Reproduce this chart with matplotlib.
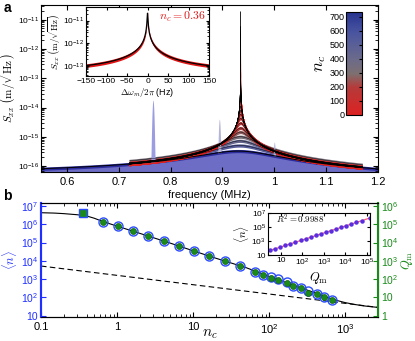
import numpy as np
import matplotlib
matplotlib.use('Agg')
import matplotlib.pyplot as plt
from matplotlib.colors import LinearSegmentedColormap, Normalize
from matplotlib.cm import ScalarMappable
from matplotlib.ticker import LogLocator, FixedLocator, FixedFormatter, NullFormatter

plt.rcParams['font.family'] = ['Liberation Sans', 'DejaVu Sans']
plt.rcParams['mathtext.fontset'] = 'cm'

# ---- panel b data: cooling strength, occupancy, quality factor ----
nc = [0.36, 0.65, 1.03, 1.62, 2.56, 4.15, 6.5, 10.3, 16.2, 26.4, 41.5,
      65, 83, 107, 131, 173, 207, 264, 326, 426, 525, 676]
n_mean = [4.2e6, 1.32e6, 7.9e5, 4.3e5, 2.3e5, 1.23e5, 6.5e4, 3.5e4, 1.86e4,
          9.8e3, 5.2e3, 2.45e3, 1.78e3, 1.32e3, 955, 660, 447, 324, 224,
          162, 112, 72]
q_m = [4.2e5, 1.32e5, 7.9e4, 4.3e4, 2.3e4, 1.23e4, 6.5e3, 3.5e3, 1.86e3,
       980, 520, 235, 165, 122, 86, 60, 42, 31, 17, 14.5, 10.3, 6.9]
# theory curves
model_nc = [0.1, 0.15, 0.2, 0.3, 0.4, 0.5, 0.65, 1, 2, 5, 10, 20, 50, 100,
            200, 400, 600, 800, 1000, 1300, 1700, 2200, 2800]
model_n = [4.27e6, 4.07e6, 3.8e6, 3.31e6, 2.82e6, 2.14e6, 1.41e6, 7.9e5,
           3.16e5, 9.3e4, 3.55e4, 1.38e4, 4.2e3, 1.41e3, 500, 178, 95, 66,
           52, 42, 35, 31, 28]
limit_nc = [0.1, 2800]
limit_n = [5.2e3, 28]

# ---- panel b inset ----
ins_q = [3.2, 5.5, 9.5, 16, 28, 48, 85, 145, 250, 430, 750, 1300, 2200,
         3800, 6500, 1.1e4, 1.9e4, 3.3e4, 5.7e4, 1.35e5]
ins_n = [48, 80, 140, 230, 400, 690, 1200, 2100, 3600, 6200, 1.05e4,
         1.8e4, 3.1e4, 5.4e4, 9.2e4, 1.55e5, 2.7e5, 4.6e5, 8e5, 1.9e6]
fit_q = [2.6, 1.4e5]
fit_n = [36, 1.96e6]

# ---- panel a: spectra (MHz, m/sqrt(Hz)) ----
f0 = 0.935
floor = 4e-17
scale = 4.5e-18
spike_f = [0.766, 0.894, 1.0]
spike_s = [1.8e-14, 4.0e-15, 6.3e-16]
spike_w = 0.0018
# inset a: n_c = 0.36 trace (Hz)
ins_peak = 2.1e-11
ins_gamma = 1.24
ins_floor = 5e-14

cmap = LinearSegmentedColormap.from_list(
    'nc', [(0, '#dd2222'), (0.27, '#b53a3a'), (0.4, '#7d7070'),
           (0.55, '#6a6a8c'), (0.8, '#4a55a0'), (1, '#26338f')])
norm = Normalize(0, 735)

W, H = 415, 341
def box(x0, y0, x1, y1):
    return [x0 / W, 1 - y1 / H, (x1 - x0) / W, (y1 - y0) / H]

def sup(v):
    return r'$\mathregular{10^{%d}}$' % v

fig = plt.figure(figsize=(4.15, 3.41), dpi=100)

# ================= panel a =================
ax = fig.add_axes(box(41, 5, 378, 172))
f = np.linspace(0.55, 1.2, 4001)
f = np.union1d(f, f0 + np.concatenate([-np.logspace(-8, -1.3, 300), [0],
                                       np.logspace(-8, -1.3, 300)]))

def spectrum(n, q, x):
    g = f0 / q
    s = scale * n * f0 * g / np.sqrt((f0**2 - x**2)**2 + (x * g)**2)
    return np.sqrt(s**2 + floor**2)

nf = 10**0.055
s_last = spectrum(n_mean[-1], q_m[-1], f)
ax.fill_between(f, 1e-18, s_last, color='#6d6dc6', lw=0)
ax.fill_between(f, s_last / nf, s_last * nf, color='#2b2b9c', lw=0)

part = (f > 0.72) & (f < 1.17)
for n, q, c in list(zip(n_mean, q_m, nc))[-2::-1]:
    s = spectrum(n, q, f[part])
    ax.fill_between(f[part], s / nf, s * nf, color=cmap(norm(c)), lw=0)
for n, q in zip(n_mean[:-1], q_m[:-1]):
    ax.plot(f[part], spectrum(n, q, f[part]), color='k', lw=0.3)
ax.plot(f, s_last, color='k', lw=0.7)

for fs, hs, col in zip(spike_f, spike_s, ['#9c9ce0', '#b4b4d8', '#aeb0d8']):
    top = np.sqrt(s_last**2 + (hs * np.exp(-((f - fs) / spike_w)**2))**2)
    ax.fill_between(f, s_last, top, where=np.abs(f - fs) < 4 * spike_w,
                    color=col, lw=0)

ax.set_xlim(0.55, 1.2)
ax.set_ylim(10**-16.2, 10**-10.5)
ax.set_yscale('log')
ax.set_xticks([0.6, 0.7, 0.8, 0.9, 1.0, 1.1, 1.2])
ax.set_xticklabels(['0.6', '0.7', '0.8', '0.9', '1', '1.1', '1.2'])
ax.yaxis.set_major_locator(FixedLocator([10.0**k for k in range(-16, -10)]))
ax.yaxis.set_major_formatter(FixedFormatter([sup(k) for k in range(-16, -10)]))
ax.yaxis.set_minor_locator(LogLocator(base=10, subs=np.arange(2, 10)))
ax.yaxis.set_minor_formatter(NullFormatter())
ax.tick_params(which='both', direction='in', top=True, right=True, labelsize=6)
ax.tick_params(axis='y', pad=1.5)
ax.tick_params(axis='x', labelsize=8)
ax.tick_params(which='major', length=3.5)
ax.tick_params(which='minor', length=2)
ax.set_xlabel('frequency (MHz)', fontsize=8, labelpad=2)
ax.set_ylabel(r'$S_{xx}\ \left(\mathrm{m}/\sqrt{\mathrm{Hz}}\right)$', fontsize=8)
ax.yaxis.set_label_coords(-0.068, 0.5)
fig.text(0.008, 0.978, 'a', fontsize=10, fontweight='bold', va='center')

# colorbar
cax = fig.add_axes(box(346, 12, 362, 115))
cb = fig.colorbar(ScalarMappable(norm=norm, cmap=cmap), cax=cax)
cb.set_ticks(range(0, 701, 100))
cax.tick_params(axis='y', left=False, right=True, labelleft=True,
                labelright=False, direction='in', length=2.5, labelsize=6.5,
                pad=1)
cax.yaxis.set_label_position('left')
cax.set_ylabel('$n_c$', fontsize=12, labelpad=1)

# inset a
axi = fig.add_axes(box(86, 7, 209, 76))
d = np.union1d(np.linspace(-150, 150, 1501), [0])
si = np.sqrt(ins_floor**2 + ins_peak**2 / (1 + (2 * d / ins_gamma)**2))
axi.fill_between(d, si / 10**0.08, si * 10**0.08, color='#e01414', lw=0)
axi.plot(d, si, color='k', lw=0.9)
axi.set_yscale('log')
axi.set_xlim(-150, 150)
axi.set_ylim(10**-13.46, 10**-10.4)
axi.set_xticks([-150, -100, -50, 0, 50, 100, 150])
axi.set_xticklabels(['\u2212150', '\u2212100', '\u221250', '0', '50', '100', '150'])
axi.yaxis.set_major_locator(FixedLocator([1e-13, 1e-12, 1e-11]))
axi.yaxis.set_major_formatter(FixedFormatter([sup(-13), sup(-12), sup(-11)]))
axi.yaxis.set_minor_locator(LogLocator(base=10, subs=np.arange(2, 10)))
axi.yaxis.set_minor_formatter(NullFormatter())
axi.tick_params(which='both', direction='in', top=True, right=True,
                labelsize=6, pad=1.5)
axi.tick_params(which='major', length=2.5)
axi.tick_params(which='minor', length=1.3)
axi.set_xlabel(r'$\Delta\omega_m/2\pi$ (Hz)', fontsize=6.5, labelpad=0.5)
axi.set_ylabel(r'$S_{xx}\ \left(\mathrm{m}/\sqrt{\mathrm{Hz}}\right)$',
               fontsize=6.5, labelpad=0.5)
axi.text(0.98, 0.86, '$n_c = 0.36$', color='#e01414', fontsize=8.5,
         transform=axi.transAxes, ha='right', va='center')

# ================= panel b =================
blue = '#1f2fff'
green = '#1a8a1a'
bx = fig.add_axes(box(41, 203, 378, 317))
tw = bx.twinx()
bx.plot(model_nc, model_n, color='k', lw=0.8, zorder=1)
bx.plot(limit_nc, limit_n, color='k', lw=0.8, ls=(0, (5, 3)), zorder=1)
bx.plot(nc[1:], n_mean[1:], 'o', mfc='none', mec='#2a4bff', ms=6.5, mew=1.0)
bx.plot(nc[:1], n_mean[:1], 's', mfc=green, mec='#2a4bff', ms=6, mew=1.0)
tw.plot(nc[1:], q_m[1:], 'o', color=green, mec='#106010', ms=4.3, mew=0.5)
for a in (bx, tw):
    a.set_xscale('log')
    a.set_yscale('log')
bx.set_xlim(0.1, 2700)
bx.set_ylim(8.5, 1.45e7)
tw.set_ylim(0.85, 1.45e6)
bx.set_xticks([0.1, 1, 10, 100, 1000])
bx.set_xticklabels(['0.1', '1', '10', sup(2), sup(3)])
bx.xaxis.set_minor_locator(LogLocator(base=10, subs=np.arange(2, 10)))
bx.xaxis.set_minor_formatter(NullFormatter())
bx.yaxis.set_major_locator(FixedLocator([10.0**k for k in range(1, 8)]))
bx.yaxis.set_major_formatter(FixedFormatter(['10'] + [sup(k) for k in range(2, 8)]))
bx.yaxis.set_minor_locator(LogLocator(base=10, subs=np.arange(2, 10)))
bx.yaxis.set_minor_formatter(NullFormatter())
tw.yaxis.set_major_locator(FixedLocator([10.0**k for k in range(0, 7)]))
tw.yaxis.set_major_formatter(FixedFormatter(['1', '10'] + [sup(k) for k in range(2, 7)]))
tw.yaxis.set_minor_locator(LogLocator(base=10, subs=np.arange(2, 10)))
tw.yaxis.set_minor_formatter(NullFormatter())
bx.tick_params(which='both', direction='in', top=True, labelsize=8)
bx.tick_params(axis='y', which='both', colors=blue, labelsize=7.5, pad=2)
tw.tick_params(which='both', direction='in', colors=green, labelsize=7.5, pad=2)
for a in (bx, tw):
    a.tick_params(which='major', length=3.5)
    a.tick_params(which='minor', length=2)
bx.spines['left'].set_color(blue)
bx.spines['left'].set_linewidth(1.5)
tw.spines['left'].set_color(blue)
tw.spines['left'].set_linewidth(1.5)
tw.spines['right'].set_color(green)
tw.spines['right'].set_linewidth(1.5)
bx.set_ylabel(r'$\langle n\rangle$', color=blue, fontsize=9)
bx.yaxis.set_label_coords(-0.066, 0.5)
tw.set_ylabel(r'$Q_\mathrm{m}$', color=green, fontsize=9)
tw.yaxis.set_label_coords(1.062, 0.5)
bx.set_xlabel('$n_c$', fontsize=11)
bx.xaxis.set_label_coords(0.5, -0.09)
fig.text(0.008, 0.425, 'b', fontsize=10, fontweight='bold', va='center')

# inset b
bi = fig.add_axes(box(268, 213, 370, 255))
bi.plot(fit_q, fit_n, color='#ff5a78', lw=0.9)
bi.plot(ins_q, ins_n, 'o', color='#5a2ee0', ms=2.2)
bi.set_xscale('log')
bi.set_yscale('log')
bi.set_xlim(2.6, 1.4e5)
bi.set_ylim(10, 1e7)
bi.xaxis.set_major_locator(FixedLocator([10, 100, 1e3, 1e4, 1e5]))
bi.xaxis.set_major_formatter(FixedFormatter(['10', sup(2), sup(3), sup(4), sup(5)]))
bi.yaxis.set_major_locator(FixedLocator([10, 1e3, 1e5, 1e7]))
bi.yaxis.set_major_formatter(FixedFormatter(['10', sup(3), sup(5), sup(7)]))
for a in (bi.xaxis, bi.yaxis):
    a.set_minor_locator(LogLocator(base=10, subs=np.arange(2, 10)))
    a.set_minor_formatter(NullFormatter())
bi.tick_params(which='both', direction='in', top=True, right=True,
               labelsize=6, pad=1.5)
bi.tick_params(which='major', length=2.5)
bi.tick_params(which='minor', length=1.3)
bi.set_xlabel(r'$Q_\mathrm{m}$', fontsize=9, labelpad=1)
bi.set_ylabel(r'$\langle n\rangle$', fontsize=8, labelpad=0)
bi.text(0.08, 0.76, '$R^2 = 0.9988$', fontsize=6.5, transform=bi.transAxes)

fig.savefig('out.png', dpi=100)
